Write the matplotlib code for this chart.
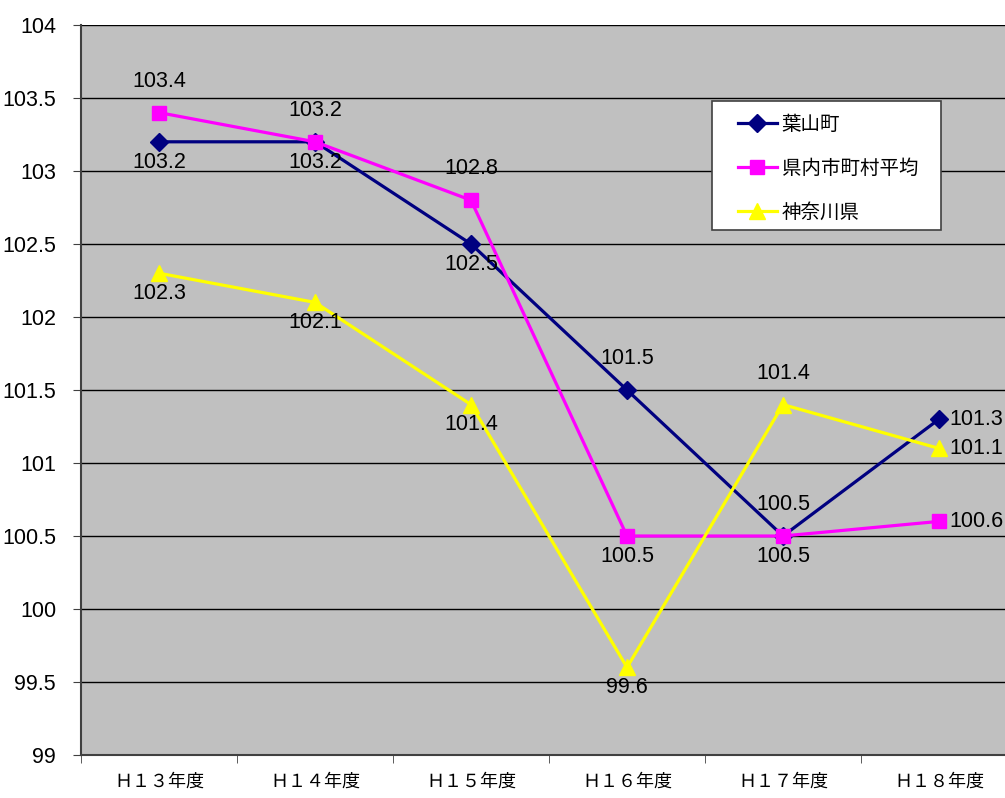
import matplotlib
matplotlib.use("Agg")
import matplotlib.pyplot as plt
from matplotlib.ticker import FixedLocator
from matplotlib.patches import Rectangle

categories = ["Ｈ１３年度", "Ｈ１４年度", "Ｈ１５年度", "Ｈ１６年度", "Ｈ１７年度", "Ｈ１８年度"]
hayama = [103.2, 103.2, 102.5, 101.5, 100.5, 101.3]
kennai = [103.4, 103.2, 102.8, 100.5, 100.5, 100.6]
kanagawa = [102.3, 102.1, 101.4, 99.6, 101.4, 101.1]
series_names = ["葉山町", "県内市町村平均", "神奈川県"]

# label placement per point: 'a' above, 'b' below, 'r' right
pos_hayama = ['b', 'b', 'b', 'a', 'a', 'r']
pos_kennai = ['a', 'a', 'a', 'b', 'b', 'r']
pos_kanagawa = ['b', 'b', 'b', 'b', 'a', 'r']

num_font = ['Liberation Sans', 'DejaVu Sans']
cjk_font = ['Noto Sans CJK JP', 'DejaVu Sans']
NUM_FS = 15.5

W, H = 1005, 798
fig = plt.figure(figsize=(W / 100, H / 100), dpi=100)
fig.patch.set_facecolor('white')
ax = fig.add_axes([81 / W, (H - 755) / H, 936 / W, 730 / H])
ax.set_facecolor('#C0C0C0')

x = list(range(len(categories)))
styles = [
    (hayama, '#000080', 'D', 9.5, pos_hayama),
    (kennai, '#FF00FF', 's', 10, pos_kennai),
    (kanagawa, '#FFFF00', '^', 11, pos_kanagawa),
]
for (vals, col, mk, ms, poss), name in zip(styles, series_names):
    ax.plot(x, vals, color=col, lw=2.3, marker=mk, ms=ms, mfc=col, mec=col,
            label=name, zorder=3, clip_on=False)
    for xi, v, p in zip(x, vals, poss):
        if p == 'a':
            ax.annotate(f"{v:.1f}", (xi, v), xytext=(0, 15), textcoords='offset points',
                        ha='center', va='bottom', fontsize=NUM_FS, family=num_font, zorder=4)
        elif p == 'b':
            ax.annotate(f"{v:.1f}", (xi, v), xytext=(0, -7), textcoords='offset points',
                        ha='center', va='top', fontsize=NUM_FS, family=num_font, zorder=4)
        else:
            ax.annotate(f"{v:.1f}", (xi, v), xytext=(7.5, 0), textcoords='offset points',
                        ha='left', va='center', fontsize=NUM_FS, family=num_font, zorder=4)

ax.set_xlim(-0.5, len(categories) - 0.5)
ax.set_ylim(99, 104)
yt = [99 + 0.5 * i for i in range(11)]
ax.set_yticks(yt)
ax.set_yticklabels([f"{v:g}" for v in yt], fontsize=NUM_FS, family=num_font)
ax.grid(axis='y', color='black', lw=1.0, zorder=1)
ax.set_axisbelow(True)

ax.set_xticks(x)
ax.set_xticklabels(categories, fontsize=13, family=cjk_font)
ax.xaxis.set_minor_locator(FixedLocator([i + 0.5 for i in range(-1, len(categories))]))
ax.tick_params(axis='x', which='major', length=0, pad=13)
ax.tick_params(axis='x', which='minor', length=6, color='#404040', direction='out')
ax.tick_params(axis='y', length=6, color='#404040', pad=12)

for s in ['top', 'right']:
    ax.spines[s].set_visible(False)
for s in ['left', 'bottom']:
    ax.spines[s].set_color('#404040')
    ax.spines[s].set_linewidth(1.5)

# legend box
box = Rectangle((712 / W, 1 - 230 / H), (941 - 712) / W, (230 - 101) / H,
                transform=fig.transFigure, facecolor='white',
                edgecolor='#404040', lw=1.2, zorder=5, clip_on=False)
ax.add_artist(box)
leg = ax.legend(loc='upper left', bbox_to_anchor=(738 / W, 1 - 114 / H),
                bbox_transform=fig.transFigure,
                prop={'family': cjk_font, 'size': 14}, frameon=False,
                handlelength=2.0, labelspacing=1.18, borderpad=0, handletextpad=0.25,
                borderaxespad=0)
leg.set_zorder(6)

fig.savefig("out.png", dpi=100)
